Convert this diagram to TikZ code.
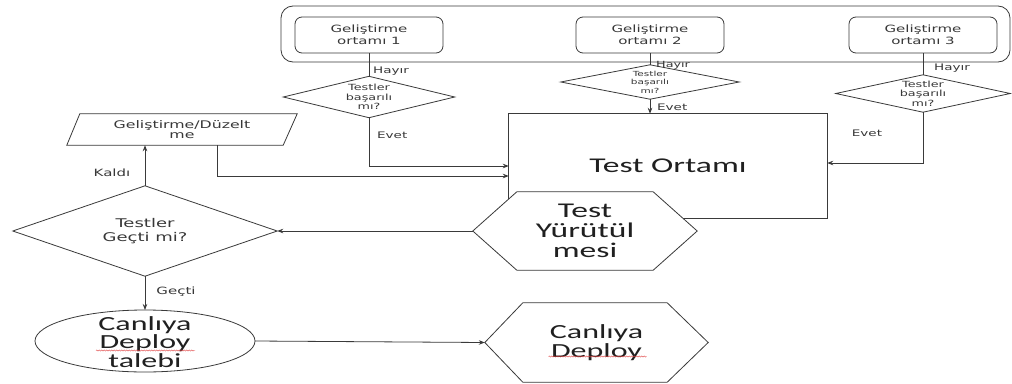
\documentclass[tikz,border=0pt]{standalone}
\usepackage{fontspec}
\setmainfont{Carlito}
\newfontfamily\bigfont[FakeStretch=1.6]{Carlito}
\newfontfamily\smallfont[FakeStretch=1.5]{DejaVu Sans}
\usetikzlibrary{arrows.meta,decorations.pathmorphing,backgrounds}
\definecolor{linegray}{HTML}{3A3A3A}
\definecolor{textdark}{HTML}{202020}
\definecolor{textgray}{HTML}{383838}
\definecolor{spellred}{HTML}{E04040}

\begin{document}
\begin{tikzpicture}[x=1pt, y=-1pt,
  shapeline/.style={draw=linegray, line width=0.8pt},
  conn/.style={draw=linegray, line width=0.8pt},
  arr/.style={conn, -{Stealth[length=6pt,width=4.5pt]}},
  devbox/.style={shapeline, rounded corners=7pt, minimum width=148pt,
    minimum height=36pt, inner sep=0pt, align=center, text=textgray,
    font=\smallfont\fontsize{10}{12}\selectfont},
  textbox/.style={rectangle, inner sep=0pt, align=center},
  smalltxt/.style={textbox, text=textgray,
    font=\smallfont\fontsize{8.5}{9.5}\selectfont},
  bigtxt/.style={textbox, text=textdark,
    font=\bigfont\fontsize{20}{18.5}\selectfont},
  lbl/.style={inner sep=0pt, text=textgray,
    font=\smallfont\fontsize{9}{10}\selectfont},
  spell/.style={spellred, line width=0.4pt, decorate,
    decoration={snake, amplitude=0.6pt, segment length=2.5pt}}
]
\useasboundingbox (0,0) rectangle (1012,383);

% development environments
\node[draw=linegray, line width=0.8pt, rounded corners=12pt,
  minimum width=729pt, minimum height=56pt] (grp) at (645.5,34) {};
\node[devbox] (g1) at (369,35) {Geliştirme\\ortamı 1};
\node[devbox] (g2) at (650,35) {Geliştirme\\ortamı 2};
\node[devbox] (g3) at (923,35) {Geliştirme\\ortamı 3};

% per-environment test decisions
\node[smalltxt, minimum width=171pt, minimum height=41pt] (d1) at (369,97) {Testler\\başarılı\\mı?};
\node[smalltxt, font=\smallfont\fontsize{7}{8.5}\selectfont,
  minimum width=178pt, minimum height=34pt] (d2) at (650,82) {Testler\\başarılı\\mı?};
\node[smalltxt, minimum width=174pt, minimum height=37pt] (d3) at (923,93.5) {Testler\\başarılı\\mı?};

% test environment and test run
\node[bigtxt, font=\bigfont\fontsize{21}{18}\selectfont,
  minimum width=318pt, minimum height=104pt] (tb) at (668,166) {Test Ortamı};
\node[textbox, text=textdark, font=\bigfont\fontsize{21}{20}\selectfont,
  minimum width=224pt, minimum height=78pt] (h1) at (585,231) {Test\\Yürütül\\mesi};

% fix / develop step
\node[textbox, text=textgray, font=\smallfont\fontsize{10.5}{10.5}\selectfont,
  minimum width=230pt, minimum height=31pt] (pb) at (182,129.5) {Geliştirme/Düzelt\\me};

% pass / fail decision
\node[textbox, text=textgray, font=\smallfont\fontsize{12}{13.5}\selectfont,
  minimum width=264pt, minimum height=90pt] (gm) at (145,231) {Testler\\Geçti mi?};

% release request and release
\node[bigtxt] (ell) at (145,342) {Canlıya\\Deploy\\talebi};
\node[bigtxt, minimum width=223pt, minimum height=79pt] (h2) at (596.5,342.5) {Canlıya\\Deploy};

% outlines behind the texts
\begin{scope}[on background layer]
  \fill[white] (0,0) rectangle (1012,383);
  \foreach \n in {d1,d2,d3,gm}
    \draw[shapeline, fill=white] (\n.north) -- (\n.east) -- (\n.south) -- (\n.west) -- cycle;
  \draw[shapeline] (tb.north west) rectangle (tb.south east);
  \draw[shapeline, fill=white] (h1.west) -- ([xshift=44pt]h1.north west)
    -- ([xshift=-44pt]h1.north east) -- (h1.east)
    -- ([xshift=-44pt]h1.south east) -- ([xshift=44pt]h1.south west) -- cycle;
  \draw[shapeline, fill=white] (h2.west) -- ([xshift=38pt]h2.north west)
    -- ([xshift=-41pt]h2.north east) -- (h2.east)
    -- ([xshift=-41pt]h2.south east) -- ([xshift=38pt]h2.south west) -- cycle;
  \draw[shapeline, fill=white] (pb.south west) -- ([xshift=13pt]pb.north west)
    -- (pb.north east) -- ([xshift=-14pt]pb.south east) -- cycle;
  \draw[shapeline, fill=white] ([yshift=1pt]ell.center) ellipse [x radius=110pt, y radius=31pt];
\end{scope}

% spell-check marks under "Deploy"
\draw[spell] ([xshift=-49pt,yshift=-8.5pt]ell.center) -- ([xshift=50pt,yshift=-8.5pt]ell.center);
\draw[spell] ([xshift=-48pt,yshift=-14pt]h2.center) -- ([xshift=50pt,yshift=-14pt]h2.center);

% connectors
\draw[conn] (g1.south) -- (d1.north);
\draw[conn] (g2.south) -- (d2.north);
\draw[conn] (g3.south) -- (d3.north);
\draw[arr] (d1.south) |- (tb.west);
\draw[arr] (d2.south) -- (d2.south |- tb.north);
\draw[arr] (d3.south) |- ([yshift=3pt]tb.east);
\draw[arr] ([xshift=35pt]pb.south) |- ([yshift=-10pt]tb.west);
\draw[arr] (h1.west) -- (gm.east);
\draw[arr] (gm.north) -- (gm.north |- pb.south);
\draw[arr] (gm.south) -- ([yshift=32pt]ell.center);
\draw[arr] ([xshift=110pt,yshift=1pt]ell.center) -- (h2.west);

% connector labels
\node[lbl, anchor=west] (lh1) at (373,71) {Hayır};
\node[lbl, anchor=west, font=\smallfont\fontsize{8.5}{9}\selectfont] (lh2) at (656,65.5) {Hayır};
\node[lbl, anchor=west] (lh3) at (934,68) {Hayır};
\node[lbl, anchor=west] (le1) at (377,135) {Evet};
\node[lbl, anchor=west] (le2) at (657,107) {Evet};
\node[lbl] (le3) at (867,133) {Evet};
\node[lbl, font=\smallfont\fontsize{10}{11}\selectfont] (lk) at (112,173) {Kaldı};
\node[lbl, font=\smallfont\fontsize{10}{11}\selectfont] (lg) at (176,292) {Geçti};
\end{tikzpicture}
\end{document}
